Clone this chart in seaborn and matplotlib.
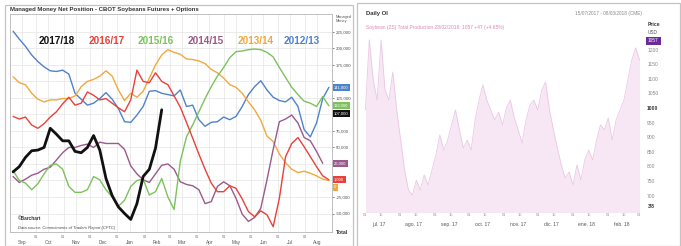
import numpy as np
import pandas as pd
import seaborn as sns
import matplotlib.pyplot as plt
import matplotlib.dates as mdates
from matplotlib.patches import Rectangle

# ---- left panel: managed money net position, thousand contracts, weekly from early Sep ----
seasons = ["2017/18", "2016/17", "2015/16", "2014/15", "2013/14", "2012/13"]
season_colors = {
    "2017/18": "#111111",
    "2016/17": "#e8413c",
    "2015/16": "#7cc25c",
    "2014/15": "#9a5a8c",
    "2013/14": "#f2a83c",
    "2012/13": "#4f82cc",
}

net_2017_18 = [13, 21, 35, 45, 46, 50, 79, 70, 60, 60, 44, 42, 50, 68, 46, 3, -23, -40, -50, -59,
               -35, 6, 17, 49, 107]
net_2016_17 = [97, 93, 96, 84, 79, 86, 96, 104, 116, 126, 114, 117, 134, 129, 122, 124, 117, 110, 104, 122,
               167, 150, 148, 163, 150, 145, 128, 111, 88, 64, 40, 17, -4, -17, -17, -8, -12, -28, -47, -55,
               -46, -52, -70, -27, 36, 56, 65, 51, 36, 21, 7, 1]
net_2015_16 = [15, 0, -4, -14, -5, 10, 23, 25, 17, -9, -18, -18, -14, 6, 1, -14, -25, -39, -30, -9,
               0, 2, -22, -17, 3, -25, -44, 29, 66, 84, 104, 124, 142, 158, 171, 186, 195, 196, 198, 199,
               198, 194, 187, 171, 156, 141, 130, 120, 117, 112, 127, 113]
net_2014_15 = [6, -3, 2, 8, 11, 17, 20, 31, 42, 50, 50, 53, 55, 50, 58, 56, 56, 56, 47, 22,
               10, 1, -3, 10, 23, 25, 17, -2, -6, -8, -14, -35, -32, -9, -2, -8, -27, -51, -62, -56,
               -42, 1, 47, 89, 93, 99, 87, 65, 60, 44, 26]
net_2013_14 = [157, 148, 145, 132, 123, 119, 122, 122, 124, 124, 128, 142, 150, 153, 158, 166, 158, 137, 121, 132,
               126, 135, 155, 175, 190, 198, 194, 191, 184, 183, 181, 177, 168, 163, 155, 145, 141, 132, 119, 107,
               91, 67, 59, 40, 27, 17, 12, 14, 11, 7, 2, 0]
net_2012_13 = [226, 214, 203, 190, 180, 172, 166, 165, 167, 161, 132, 123, 114, 117, 124, 133, 123, 109, 89, 88,
               99, 112, 135, 136, 132, 130, 128, 137, 112, 114, 92, 82, 88, 89, 96, 92, 97, 112, 130, 142,
               151, 137, 126, 121, 119, 126, 112, 77, 66, 87, 124, 141]
season_values = {
    "2017/18": net_2017_18, "2016/17": net_2016_17, "2015/16": net_2015_16,
    "2014/15": net_2014_15, "2013/14": net_2013_14, "2012/13": net_2012_13,
}
week_dates = pd.date_range("2017-09-05", periods=52, freq="7D")

rows = []
for s in seasons:
    for d, v in zip(week_dates, season_values[s]):
        rows.append({"week": d, "net": v * 1000, "season": s})
cot = pd.DataFrame(rows)

# ---- right panel: daily series ----
daily_values = [993, 1233, 1096, 1027, 1233, 1062, 1027, 1123, 993, 890, 788, 719, 702, 753, 719, 771, 736,
                788, 839, 908, 856, 890, 942, 993, 925, 863, 890, 856, 959, 1027, 1079, 1027, 993, 959, 986,
                942, 1000, 1027, 966, 925, 880, 959, 1010, 1027, 993, 1062, 1089, 993, 925, 863, 805, 760,
                781, 736, 805, 753, 822, 856, 822, 890, 942, 925, 966, 890, 959, 993, 1027, 1096, 1164, 1206,
                1164]
daily_dates = pd.date_range("2017-07-01", "2018-03-01", periods=len(daily_values))
daily = pd.DataFrame({"date": daily_dates, "value": daily_values})
month_labels = ["jul. 17", "ago. 17", "sep. 17", "oct. 17", "nov. 17", "dic. 17", "ene. 18", "feb. 18"]
price_ticks = [700, 750, 800, 850, 900, 950, 1000, 1050, 1100, 1150, 1200]

sns.set_style("white")
plt.rcParams["font.family"] = ["Liberation Sans", "DejaVu Sans"]

W, H = 681, 246
fig = plt.figure(figsize=(W / 100, H / 100), dpi=100)


def fx(px):
    return px / W


def fy(py):
    return 1 - py / H


# panel frames
fig.patches.append(Rectangle((fx(5), 0), fx(353) - fx(5), fy(5), transform=fig.transFigure,
                             fill=False, ec="#c4c4c4", lw=0.9))
fig.patches.append(Rectangle((fx(357), 0), fx(680) - fx(357), fy(3), transform=fig.transFigure,
                             fill=False, ec="#c4c4c4", lw=0.9))

# ================= left panel =================
ax = fig.add_axes([fx(10), fy(232), fx(332) - fx(10), fy(14) - fy(232)])
for s in seasons[::-1]:
    sub = cot[cot["season"] == s]
    sns.lineplot(data=sub, x="week", y="net", color=season_colors[s], ax=ax,
                 linewidth=2.0 if s == "2017/18" else 1.0, legend=False)

ax.set_xlim(pd.Timestamp("2017-09-01 12:00"), pd.Timestamp("2018-08-31 12:00"))
ax.set_ylim(-78000, 252000)
ax.yaxis.tick_right()

# value tags on the right axis (stacked so they don't collide)
last_vals = sorted(((season_values[s][-1] * 1000, s) for s in seasons), reverse=True)
tag_pos = []
prev = None
for v, s in last_vals:
    pos = v if prev is None else min(v, prev - 11000)
    prev = pos
    tag_pos.append((v, pos, s))

yticks = np.arange(-50000, 225001, 25000)
ax.set_yticks(yticks)
ax.set_yticklabels(["" if any(abs(t - p) < 11000 for _, p, _ in tag_pos) else f"{int(t):,}" for t in yticks],
                   fontsize=3.2, color="#555555")
for v, pos, s in tag_pos:
    ax.annotate(f"{v:,.0f}", xy=(1.0, pos), xycoords=ax.get_yaxis_transform(),
                xytext=(1.5, 0), textcoords="offset points", fontsize=3, color="white",
                va="center", ha="left", annotation_clip=False,
                bbox=dict(boxstyle="square,pad=0.35", fc=season_colors[s], ec="none"))

ax.xaxis.set_major_locator(mdates.MonthLocator(bymonthday=15))
ax.xaxis.set_major_formatter(mdates.DateFormatter("%b"))
ax.xaxis.set_minor_locator(mdates.DayLocator(bymonthday=[1]))
ax.xaxis.set_minor_formatter(mdates.DateFormatter("%d"))
ax.tick_params(axis="x", which="major", labelsize=3.4, colors="#555555", pad=6, length=0)
ax.tick_params(axis="x", which="minor", labelsize=2.8, colors="#777777", pad=0.5, length=1.5)
ax.tick_params(axis="y", length=1.5, pad=1, width=0.4)
ax.grid(True, which="both", color="#e4e4e4", lw=0.5)
ax.set_xlabel("")
ax.set_ylabel("")
for sp in ax.spines.values():
    sp.set_color("#b5b5b5")
    sp.set_linewidth(0.6)

# season legend as coloured words
legend_x = [57, 107, 156, 206, 256, 302]
for s, lx in zip(seasons, legend_x):
    fig.text(fx(lx), fy(41), s, color=season_colors[s], fontsize=7.2, fontweight="bold",
             ha="center", va="center")

fig.text(fx(10), fy(10), "Managed Money Net Position - CBOT Soybeans Futures + Options",
         fontsize=4.3, fontweight="bold", color="#333333", va="center")
fig.text(fx(336), fy(19), "Managed\nMoney", fontsize=2.8, color="#555555", va="center")
fig.text(fx(336), fy(232), "Total", fontsize=3.8, fontweight="bold", color="#333333", va="center")
fig.text(fx(18), fy(218), "\u00a9Barchart", fontsize=3.4, fontweight="bold", color="#333333", va="center")
fig.text(fx(18), fy(228), "Data source: Commitments of Traders Report (CFTC)", fontsize=3.0,
         style="italic", color="#444444", va="center")

# ================= right panel =================
ax2 = fig.add_axes([fx(362), fy(212), fx(643) - fx(362), fy(20) - fy(212)])
ax2.fill_between(daily["date"], daily["value"], 600, color="#f7e7f4", lw=0)
sns.lineplot(data=daily, x="date", y="value", color="#ebc8e4", linewidth=0.6, ax=ax2)
ax2.set_xlim(pd.Timestamp("2017-06-28"), pd.Timestamp("2018-03-04"))
ax2.set_ylim(644, 1301)
ax2.yaxis.tick_right()
ax2.set_yticks(price_ticks)
ax2.set_yticklabels([str(t) for t in price_ticks], fontsize=3.6, color="#888888")
for lbl, t in zip(ax2.get_yticklabels(), price_ticks):
    if t == 1000:
        lbl.set_fontweight("bold")
        lbl.set_color("#333333")
month_pos = pd.date_range("2017-07-01", periods=len(month_labels), freq="MS") + pd.Timedelta(days=12)
ax2.set_xticks(month_pos)
ax2.set_xticklabels(month_labels, fontsize=3.6, color="#555555")
ax2.xaxis.set_minor_locator(mdates.DayLocator(bymonthday=[1, 15]))
ax2.xaxis.set_minor_formatter(mdates.DateFormatter("%d"))
ax2.tick_params(axis="x", which="major", pad=7, length=0)
ax2.tick_params(axis="x", which="minor", labelsize=3.0, colors="#999999", pad=0.5, length=0)
ax2.tick_params(axis="y", length=0, pad=3)
ax2.set_xlabel("")
ax2.set_ylabel("")
for sp in ax2.spines.values():
    sp.set_visible(False)

fig.text(fx(366), fy(14), "Daily OI", fontsize=4.2, fontweight="bold", color="#333333", va="center")
fig.text(fx(642), fy(14), "15/07/2017 - 08/03/2018 (CME)", fontsize=3.4, color="#888888",
         ha="right", va="center")
fig.text(fx(366), fy(27), "Soybean (ZS) Total Production 28/02/2018: 1057 +47 (+4.65%)",
         fontsize=3.5, color="#dc86b8", va="center")
fig.text(fx(648), fy(24), "Price", fontsize=3.6, fontweight="bold", color="#333333", va="center")
fig.text(fx(648), fy(33), "USD", fontsize=3.4, color="#555555", va="center")
fig.text(fx(648), fy(41), "1057", fontsize=3.4, color="white", va="center",
         bbox=dict(boxstyle="square,pad=0.4", fc="#6a2a9a", ec="none"))
fig.text(fx(648), fy(206), "3/8", fontsize=3.6, fontweight="bold", color="#333333", va="center")

fig.savefig("out.png", dpi=100)
